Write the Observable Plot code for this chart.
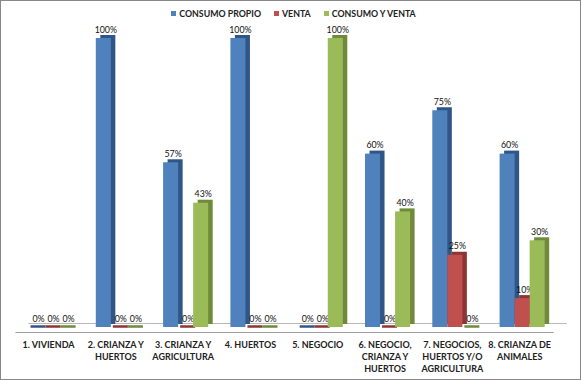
<!DOCTYPE html>
<html>
<head>
<meta charset="utf-8">
<script src="https://cdn.jsdelivr.net/npm/d3@7"></script>
<script src="https://cdn.jsdelivr.net/npm/@observablehq/plot@0.6"></script>
<style>
  html, body { margin: 0; padding: 0; background: #fff; }
  #wrap { width: 579px; height: 378px; border: 1px solid #888; position: relative; overflow: hidden; background: #fff; }
  #legend { height: 24px; display: flex; justify-content: center; align-items: center; gap: 13px;
    font-family: Lato, "Open Sans", sans-serif; font-weight: bold; font-size: 8.8px; color: #222; padding-left: 6px; box-sizing: border-box; }
  #legend span.sw { display: inline-block; width: 5px; height: 5px; margin-right: 3px; vertical-align: middle; }
  #legend .item { display: flex; align-items: center; }
</style>
</head>
<body>
<div id="wrap">
  <div id="legend"></div>
  <div id="chart"></div>
</div>
<script>
const categories = ["1. VIVIENDA", "2. CRIANZA Y HUERTOS", "3. CRIANZA Y AGRICULTURA", "4. HUERTOS", "5. NEGOCIO", "6. NEGOCIO, CRIANZA Y HUERTOS", "7. NEGOCIOS, HUERTOS Y/O AGRICULTURA", "8. CRIANZA DE ANIMALES"];
const tickLabels = ["1. VIVIENDA", "2. CRIANZA Y\nHUERTOS", "3. CRIANZA Y\nAGRICULTURA", "4. HUERTOS", "5. NEGOCIO", "6. NEGOCIO,\nCRIANZA Y\nHUERTOS", "7. NEGOCIOS,\nHUERTOS Y/O\nAGRICULTURA", "8. CRIANZA DE\nANIMALES"];
const series = ["CONSUMO PROPIO", "VENTA", "CONSUMO Y VENTA"];
const consumoPropio = [0, 100, 57, 100, 0, 60, 75, 60];
const venta = [0, 0, 0, 0, 0, 0, 25, 10];
const consumoYVenta = [0, 0, 43, 0, 100, 40, 0, 30];

const seriesValues = [consumoPropio, venta, consumoYVenta];
const frontColors = ["#4F81BD", "#C0504D", "#9BBB59"];
const sideColors = ["#2F5687", "#8C3533", "#6E8A3A"];

// Legend
const legend = document.getElementById("legend");
series.forEach((s, i) => {
  const it = document.createElement("div");
  it.className = "item";
  it.innerHTML = `<span class="sw" style="background:${frontColors[i]}"></span>${s}`;
  legend.appendChild(it);
});

const width = 579, height = 354;
const marginLeft = 16.4, marginRight = 24.2;
const pi = 0.33, po = 0.165;
const step = (width - marginLeft - marginRight) / (categories.length - pi + 2 * po);
const bw = step * (1 - pi);
const third = bw / 3;

const marks = [];
// floor
marks.push(Plot.ruleY([0], {stroke: "#a0a0a0", strokeWidth: 1, dy: 5, dx: -2}));
marks.push(Plot.ruleY([0], {stroke: "#b8b8b8", strokeWidth: 1, dy: -4, dx: 11}));

series.forEach((s, i) => {
  const rows = categories.map((c, j) => ({cat: c, series: s, value: seriesValues[i][j]}));
  const insetLeft = third * i;
  const insetRight = third * (2 - i);
  const zeros = rows.filter(d => d.value === 0);
  marks.push(Plot.tickY(zeros, {x: "cat", y: 0, stroke: sideColors[i], strokeWidth: 2.5, insetLeft, insetRight, dx: 2, dy: -1}));
  marks.push(Plot.barY(rows, {x: "cat", y: "value", fill: sideColors[i], insetLeft, insetRight, dx: 4.5, dy: -3}));
  marks.push(Plot.barY(rows, {x: "cat", y: "value", fill: frontColors[i], insetLeft, insetRight}));
  marks.push(Plot.text(rows, {x: "cat", y: "value", text: d => d.value + "%", dx: -third + third * i + 2, dy: -6,
    lineAnchor: "bottom", fontSize: 8.8, fill: "#111"}));
});

marks.push(Plot.text(categories, {x: d => d, frameAnchor: "bottom", text: (d, i) => tickLabels[i],
  lineAnchor: "top", dy: 12, dx: -3, fontWeight: "bold", fontSize: 9, lineHeight: 1.35, fill: "#222"}));

const chart = Plot.plot({
  width, height,
  marginLeft, marginRight,
  marginTop: 13, marginBottom: 52,
  style: {fontFamily: "Lato, 'Open Sans', sans-serif", background: "#fff", overflow: "visible"},
  x: {domain: categories, paddingInner: pi, paddingOuter: po, axis: null, round: false},
  y: {domain: [0, 100], axis: null},
  marks
});
document.getElementById("chart").appendChild(chart);
</script>
</body>
</html>
